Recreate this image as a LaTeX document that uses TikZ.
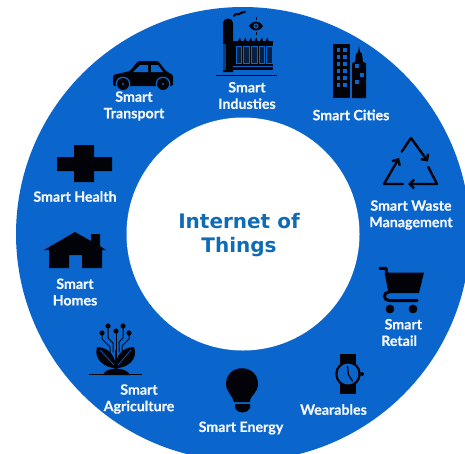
\documentclass[tikz,border=0pt]{standalone}
\usepackage{fontspec}
\setmainfont{Lato}[BoldFeatures={FakeBold=0.6}]
\newfontfamily\titlefont{DejaVu Sans}
\usetikzlibrary{arrows.meta}
\definecolor{ringblue}{HTML}{0A66CC}
\definecolor{titleblue}{HTML}{0F6CB4}
\definecolor{labelwhite}{HTML}{F2F6FA}
\definecolor{icon}{HTML}{020308}
\tikzset{
  lab/.style={text=labelwhite,font=\fontsize{14.2}{16.5}\selectfont\bfseries,align=center,inner sep=0pt},
  ttl/.style={text=titleblue,font=\titlefont\fontsize{20}{24}\selectfont\bfseries,align=center,inner sep=0pt},
  ico/.style={fill=icon,draw=none},
  cut/.style={fill=ringblue,draw=none},
  wire/.style={draw=icon,line width=1pt,line cap=round,line join=round},
  recy/.style={draw=icon,line width=2.4pt,line cap=round,line join=round,-{Straight Barb[length=4.5pt,width=9pt,line width=2.4pt]}}
}
\begin{document}
\begin{tikzpicture}[x=1pt,y=-1pt]
\useasboundingbox (0,0) rectangle (465,453);
\clip (0,0) rectangle (465,453);
\fill[white] (0,0) rectangle (465,453);
% ring
\fill[ringblue] (243,234) circle[radius=227];
\fill[white] (243,234) circle[radius=116.5];
% car
\path[ico,rounded corners=1.5pt] (113,86) -- (113,75) -- (130,71) -- (138,61) -- (158,61) -- (166,71) -- (173,75) -- (173,86) -- cycle;
\fill[cut] (133,72) -- (140,65) -- (148,65) -- (148,72) -- cycle;
\fill[cut] (151,65) -- (158,65) -- (163,72) -- (151,72) -- cycle;
\fill[cut] (123,84) circle[radius=7.4];
\fill[cut] (163,84) circle[radius=7.4];
\fill[icon] (123,84) circle[radius=6];
\fill[icon] (163,84) circle[radius=6];
\fill[cut] (123,84) circle[radius=1.2];
\fill[cut] (163,84) circle[radius=1.2];
% factory
\path[ico] (223,72) -- (223,23) .. controls (223,17) and (233,17) .. (233,23) -- (233,72) -- cycle;
\path[ico] (233,41) -- (273,41) -- (273,70) -- (233,70) -- cycle;
\foreach \xx in {238,243.5,249,254.5,260,265.5}{\path[ico] (\xx,41) -- (\xx+2,37.5) -- (\xx+3,41) -- cycle;}
\foreach \xx in {236,243.7,251.4,259.1,266.8}{\path[draw=ringblue,line width=.7pt,fill=icon!70!ringblue] (\xx,46) rectangle (\xx+5.6,63);}
\fill[ringblue!60!icon] (223,44) rectangle (226,70);
\draw[ringblue,line width=.6pt] (233,66) -- (273,66);
\draw[icon,line width=1pt] (216,75) -- (277,75);
\draw[icon,line width=2pt,line cap=round] (234,16) .. controls (236,12) and (238,16) .. (240,13.5) .. controls (241,12) and (243,13) .. (245,12);
\path[ico] (249,26) .. controls (253,20) and (259,20) .. (263,26) .. controls (259,32) and (253,32) .. (249,26) -- cycle;
\fill[ringblue] (256,26) circle[radius=2.6];
\fill[icon] (256,26) circle[radius=1.3];
\draw[icon,line width=.6pt] (256,17) -- (256,20) (256,32) -- (256,35);
% cities
\path[ico] (333,44) rectangle (350,98);
\foreach \cy in {48,55,62,69,76,83}{
  \fill[ringblue] (337,\cy) rectangle +(3.4,4);
  \fill[ringblue] (343.3,\cy) rectangle +(3.4,4);
}
\path[ico] (352,98) -- (352,63) -- (355,62) -- (356,54) -- (358,52) -- (359,46) -- (360,52) -- (362,54) -- (363,62) -- (366,63) -- (366,98) -- cycle;
\fill[ringblue] (355,64) rectangle +(4,4);
\fill[ringblue] (360,73) rectangle +(4,4);
\fill[ringblue] (355,80) rectangle +(4,4);
% recycle
\draw[recy] (401.7,151.7) -- (411,138) -- (428,161.5);
\draw[recy] (428.3,167) -- (437,184) -- (408,184);
\draw[recy] (403,184) -- (384,184) -- (399,158);
% cart
\path[ico] (384.5,272.5) -- (424,272.5) -- (419,293) -- (388.5,293) -- cycle;
\draw[icon,line width=3pt,line join=round] (379,268.4) -- (386,268.4) -- (390,290);
\draw[icon,line width=3pt,line cap=round] (417,300.5) -- (389,300.5) .. controls (383,300.5) and (383,292) .. (389,292);
\fill[icon] (390,309) circle[radius=4.4];
\fill[icon] (413,309) circle[radius=4.4];
% watch
\path[ico] (340,354) rectangle (356,394);
\fill[icon] (362,374) circle[radius=2];
\fill[icon] (348,374) circle[radius=12.8];
\fill[ringblue] (348,374) circle[radius=10.4];
\draw[icon,line width=1.2pt,line cap=round,line join=round] (347.5,366.5) -- (348.5,375) -- (352.5,381);
% bulb
\path[ico] (234,402) .. controls (233,396) and (226,392) .. (226,384) .. controls (226,363) and (258,363) .. (258,384) .. controls (258,392) and (251,396) .. (250,400) -- (250,402) -- cycle;
\path[ico] (235,404) -- (250,404) -- (250,408) .. controls (248,414) and (237,414) .. (235,408) -- cycle;
% plant
\path[ico] (89,373.5) rectangle (142,375);
\path[ico] (103,375) .. controls (106,368) and (112,370) .. (116,368) .. controls (120,370) and (126,368) .. (130,375) -- cycle;
\fill[icon] (115,350) rectangle (117,370);
\path[ico] (115,368) .. controls (106,368) and (93,360) .. (97,347) .. controls (108,347) and (117,356) .. (115,368) -- cycle;
\path[ico] (117,368) .. controls (126,368) and (139,360) .. (134,347) .. controls (123,347) and (114,356) .. (117,368) -- cycle;
\draw[ringblue,line width=.6pt] (100,350) -- (114,365) (131,350) -- (118,365);
\draw[wire] (116,331) -- (116,352);
\draw[wire] (108,326) -- (108,338) -- (113,343) -- (113,352);
\draw[wire] (123,326) -- (123,338) -- (119,342) -- (119,352);
\draw[wire] (102,333) -- (102,339) -- (110,347) -- (110,352);
\draw[wire] (129,333) -- (129,339) -- (122,346) -- (122,352);
\foreach \dx/\dy in {108/326,123/326,116/331,102/333,129/333}{\fill[icon] (\dx,\dy) circle[radius=2.6];}
% cross
\path[ico] (74,145) -- (94,145) -- (94,157) -- (112,157) -- (112,171) -- (94,171) -- (94,182) -- (74,182) -- (74,171) -- (57,171) -- (57,157) -- (74,157) -- cycle;
% house
\path[ico] (44,250) -- (75,232) -- (91,241) -- (91,234) -- (100,234) -- (100,246) -- (106,250) -- (102,250) -- (102,268) -- (82,268) -- (82,255) -- (69,255) -- (69,268) -- (49,268) -- (49,250) -- cycle;
% labels
\node[lab] (transport) at (134,106) {Smart\\Transport};
\node[lab] (industries) at (247,95.5) {Smart\\Industies};
\node[lab] (cities) at (351,115) {Smart Cities};
\node[lab] (waste) at (411,215) {Smart Waste\\Management};
\node[lab,align=left,anchor=west] (retail) at (381,332.5) {\ Smart\\Retail};
\node[lab] (wearables) at (333.5,409.5) {Wearables};
\node[lab] (energy) at (241,428) {Smart Energy};
\node[lab] (agri) at (139,399) {Smart\\Agriculture};
\node[lab] (homes) at (75,292) {Smart\\Homes};
\node[lab] (health) at (75,196.5) {Smart Health};
\node[ttl] (title) at (239,235) {Internet of\\Things};
\end{tikzpicture}
\end{document}
